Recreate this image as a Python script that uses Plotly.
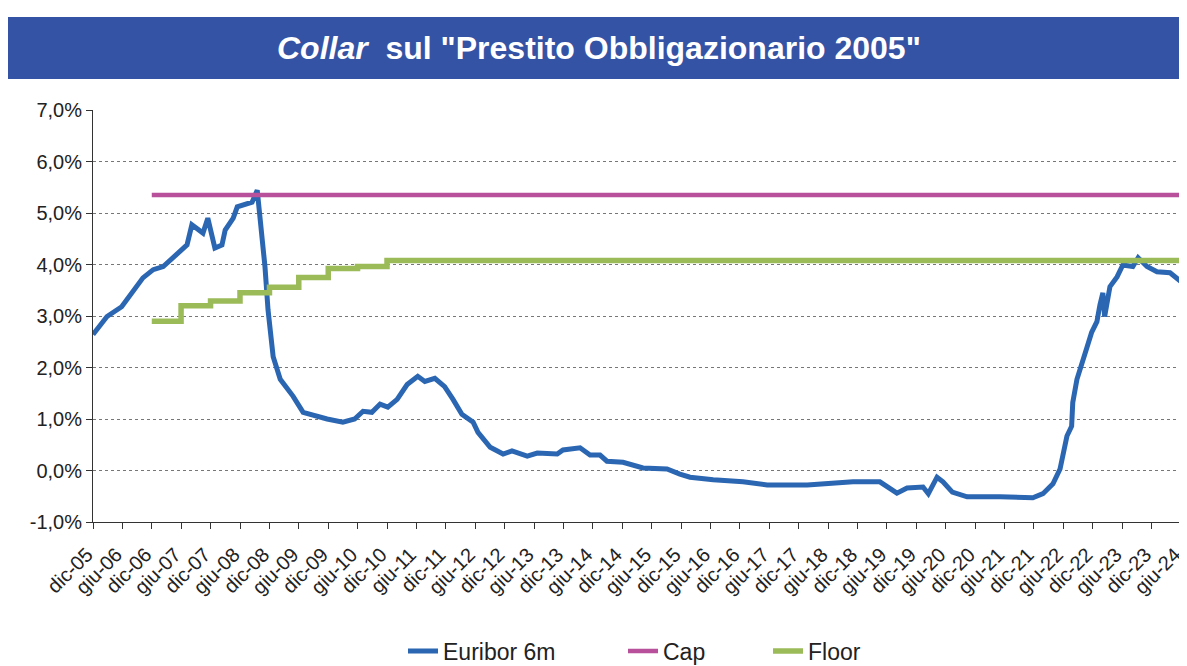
import plotly.graph_objects as go

# ---------------- data ----------------
euribor_dates = [
    "2005-12-01", "2006-02-26", "2006-05-28", "2006-10-07", "2006-12-10", "2007-02-10",
    "2007-07-08", "2007-08-07", "2007-10-15", "2007-11-14", "2007-12-28", "2008-02-10",
    "2008-03-01", "2008-04-20", "2008-05-15", "2008-08-15", "2008-09-16", "2008-10-05",
    "2008-11-03", "2008-11-22", "2008-12-24", "2009-02-06", "2009-04-27", "2009-06-28",
    "2009-11-24", "2010-03-02", "2010-05-14", "2010-07-05", "2010-08-29", "2010-10-19",
    "2010-12-06", "2011-02-02", "2011-04-05", "2011-06-10", "2011-07-24", "2011-09-24",
    "2011-11-24", "2012-01-15", "2012-03-10", "2012-05-19", "2012-06-18", "2012-09-02",
    "2012-11-21", "2013-01-15", "2013-04-20", "2013-06-21", "2013-10-23", "2013-11-28",
    "2014-03-14", "2014-05-15", "2014-07-16", "2014-08-28", "2014-12-06", "2015-04-09",
    "2015-09-05", "2015-11-24", "2016-01-26", "2016-06-18", "2016-12-20", "2017-05-19",
    "2018-01-23", "2018-11-03", "2019-04-19", "2019-08-03", "2019-10-05", "2020-01-12",
    "2020-02-14", "2020-04-08", "2020-05-15", "2020-07-12", "2020-10-12", "2021-05-05",
    "2021-11-24", "2022-01-26", "2022-03-29", "2022-05-12", "2022-05-30", "2022-06-24",
    "2022-07-23", "2022-07-30", "2022-08-25", "2022-09-23", "2022-10-26", "2022-11-24",
    "2022-12-27", "2023-01-15", "2023-02-02", "2023-02-13", "2023-03-18", "2023-05-01",
    "2023-06-06", "2023-08-07", "2023-09-09", "2023-11-03", "2024-01-04", "2024-03-25",
    "2024-06-01",
]
euribor_values = [
    2.64, 2.99, 3.18, 3.74, 3.90, 3.96,
    4.38, 4.77, 4.61, 4.90, 4.32, 4.38,
    4.67, 4.90, 5.12, 5.21, 5.44, 4.92,
    3.96, 3.12, 2.21, 1.77, 1.44, 1.13,
    1.00, 0.94, 1.00, 1.15, 1.13, 1.29,
    1.23, 1.38, 1.67, 1.83, 1.73, 1.79,
    1.63, 1.38, 1.09, 0.94, 0.74, 0.45,
    0.32, 0.38, 0.28, 0.34, 0.32, 0.40,
    0.44, 0.30, 0.30, 0.18, 0.16, 0.05,
    0.03, -0.07, -0.13, -0.18, -0.22, -0.28,
    -0.28, -0.22, -0.22, -0.44, -0.34, -0.32,
    -0.45, -0.13, -0.22, -0.42, -0.51, -0.51,
    -0.53, -0.45, -0.26, 0.03, 0.28, 0.67,
    0.86, 1.32, 1.77, 2.10, 2.39, 2.68,
    2.89, 3.22, 3.45, 2.99, 3.57, 3.76,
    3.99, 3.96, 4.13, 3.96, 3.86, 3.84,
    3.67,
]

cap_dates = ["2006-12-01", "2024-06-01"]
cap_values = [5.35, 5.35]

floor_dates = ["2006-12-01", "2007-06-01", "2007-12-01", "2008-06-01", "2008-12-01",
               "2009-06-01", "2009-12-01", "2010-06-01", "2010-12-01", "2024-06-01"]
floor_values = [2.90, 3.20, 3.29, 3.45, 3.56, 3.75, 3.92, 3.96, 4.08, 4.08]

x_tick_labels = [
    "dic-05", "giu-06", "dic-06", "giu-07", "dic-07", "giu-08", "dic-08", "giu-09",
    "dic-09", "giu-10", "dic-10", "giu-11", "dic-11", "giu-12", "dic-12", "giu-13",
    "dic-13", "giu-14", "dic-14", "giu-15", "dic-15", "giu-16", "dic-16", "giu-17",
    "dic-17", "giu-18", "dic-18", "giu-19", "dic-19", "giu-20", "dic-20", "giu-21",
    "dic-21", "giu-22", "dic-22", "giu-23", "dic-23", "giu-24",
]
y_tick_values = [-1, 0, 1, 2, 3, 4, 5, 6, 7]
y_tick_labels = ["-1,0%", "0,0%", "1,0%", "2,0%", "3,0%", "4,0%", "5,0%", "6,0%", "7,0%"]

month_of = {"dic": "12", "giu": "06"}
x_tick_dates = ["20%s-%s-01" % (lab[4:], month_of[lab[:3]]) for lab in x_tick_labels]

# ---------------- figure ----------------
FONT = "Arial, Liberation Sans, sans-serif"
BLUE = "#2B66B2"
MAGENTA = "#B8509C"
GREEN = "#9BBB59"
TXT = "#222222"

# the page body has an 8px margin: work in page pixels and convert
OFF = 8
PAGE_W, PAGE_H = 1187, 666
W, H = PAGE_W - OFF, PAGE_H - OFF
PLOT_L, PLOT_R, PLOT_T, PLOT_B = 93, 1181, 110, 522   # page pixels
L = PLOT_L - OFF
T = PLOT_T - OFF
R = W - (PLOT_R - OFF)
B = H - (PLOT_B - OFF)
pw, ph = W - L - R, H - T - B


def px_x(x):
    return (x - OFF - L) / pw


def px_y(y):
    return (H - B - (y - OFF)) / ph


fig = go.Figure()
fig.add_trace(go.Scatter(x=euribor_dates, y=euribor_values, mode="lines", name="Euribor 6m",
                         line=dict(color=BLUE, width=5), legend="legend"))
fig.add_trace(go.Scatter(x=cap_dates, y=cap_values, mode="lines", name="Cap",
                         line=dict(color=MAGENTA, width=4.5), legend="legend2"))
fig.add_trace(go.Scatter(x=floor_dates, y=floor_values, mode="lines", name="Floor",
                         line=dict(color=GREEN, width=5.5, shape="hv"), legend="legend3"))

leg_common = dict(orientation="h", xanchor="left", yanchor="middle",
                  font=dict(size=23, family=FONT, color=TXT),
                  bgcolor="rgba(0,0,0,0)", borderwidth=0)

fig.update_layout(
    width=W, height=H,
    margin=dict(l=L, r=R, t=T, b=B, autoexpand=False),
    paper_bgcolor="white", plot_bgcolor="white",
    font=dict(family=FONT, color=TXT),
    showlegend=True,
    legend=dict(x=px_x(403), y=px_y(651), **leg_common),
    legend2=dict(x=px_x(623), y=px_y(651), **leg_common),
    legend3=dict(x=px_x(768), y=px_y(651), **leg_common),
    xaxis=dict(
        type="date", range=["2005-12-01", "2024-06-01 06:00"],
        tickmode="array", tickvals=x_tick_dates, ticktext=x_tick_labels,
        tickangle=-45, tickfont=dict(size=20, family=FONT, color=TXT),
        ticklabeloverflow="allow", ticklabelshift=-6, ticklabelstandoff=6,
        ticks="outside", ticklen=6, tickcolor="#333333",
        showline=True, linecolor="#333333", linewidth=1,
        showgrid=False, zeroline=False, automargin=False,
    ),
    yaxis=dict(
        range=[-1, 7], tickmode="array", tickvals=y_tick_values, ticktext=y_tick_labels,
        tickfont=dict(size=20, family=FONT, color=TXT),
        ticks="outside", ticklen=6, tickcolor="#333333",
        showline=True, linecolor="#333333", linewidth=1,
        showgrid=True, gridcolor="#777777", gridwidth=1, griddash="dot",
        zeroline=False, automargin=False,
    ),
    shapes=[
        dict(type="rect", xref="paper", yref="paper",
             x0=px_x(7), x1=px_x(1195), y0=px_y(79), y1=px_y(17),
             fillcolor="#3553A5", line=dict(width=0), layer="below"),
        dict(type="line", xref="paper", yref="paper", x0=1, x1=1, y0=0, y1=1,
             line=dict(color="#999999", width=1)),
    ],
    annotations=[
        dict(xref="paper", yref="paper", x=px_x(599), y=px_y(48),
             xanchor="center", yanchor="middle", showarrow=False,
             text='<b><i>Collar</i>  sul "Prestito Obbligazionario 2005"</b>',
             font=dict(size=32, family=FONT, color="white")),
    ],
)

fig.write_html("out.html")
